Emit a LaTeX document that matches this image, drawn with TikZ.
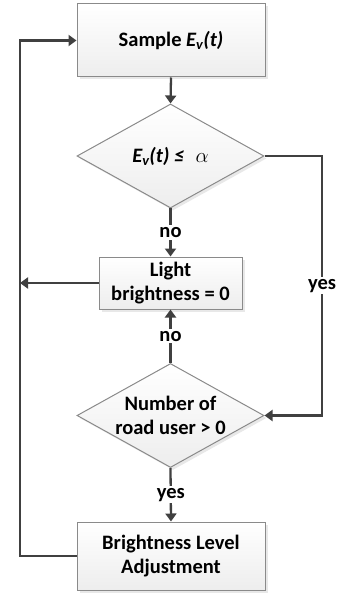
\documentclass[tikz,border=0pt]{standalone}
\usepackage{fontspec}
\setmainfont{Carlito}
\usetikzlibrary{shapes.geometric,arrows.meta,shadows}
\definecolor{conn}{HTML}{404040}
\definecolor{edge}{HTML}{8A8A8A}
\begin{document}
\begin{tikzpicture}[x=1pt,y=-1pt,
  font=\fontsize{20.5}{24}\selectfont\bfseries,
  boxstyle/.style={draw=edge, line width=1pt, top color=white, bottom color=gray!14,
    drop shadow={shadow xshift=2.5pt, shadow yshift=-2.5pt, opacity=0.18, fill=gray},
    align=center, inner sep=0pt},
  diastyle/.style={diamond, draw=edge, line width=1pt, top color=white, bottom color=gray!14,
    drop shadow={shadow xshift=2.5pt, shadow yshift=-2.5pt, opacity=0.18, fill=gray},
    minimum width=187pt, minimum height=104pt, inner sep=0pt},
  arrowline/.style={draw=conn, line width=2.3pt, -{Triangle[width=11pt,length=8pt]}},
  lbl/.style={fill=white, inner sep=2pt, align=center}]
\useasboundingbox (0,0) rectangle (337,593);

\node[boxstyle, minimum width=188pt, minimum height=73pt] (b1) at (171,40.5) {Sample \textit{E\textsubscript{v}(t)}};
\node[diastyle] (d1) at (170.5,156) {};
\node (d1t) at (d1.center) {\textit{E\textsubscript{v}(t) ≤} \,\,$\alpha$};
\node[boxstyle, minimum width=143pt, minimum height=52pt] (b2) at (170.5,283) {Light\\brightness = 0};
\node[diastyle] (d2) at (170.5,415.5) {};
\node[align=center] (d2t) at (d2.center) {Number of\\road user > 0};
\node[boxstyle, minimum width=188pt, minimum height=68pt] (b3) at (171,556) {Brightness Level\\Adjustment};

\coordinate (R) at (322,415.5);
\coordinate (L) at (20,556);

\draw[arrowline] (b1.south) -- (d1.north);
\draw[arrowline] (d1.south) -- (b2.north) node[lbl, midway] (n1) {no};
\draw[arrowline] (d2.north) -- (b2.south) node[lbl, midway] (n2) {no};
\draw[arrowline] (d2.south) -- (b3.north) node[lbl, midway] (y2) {yes};
\draw[arrowline] (d1.east) -| (R) node[lbl, pos=0.75] (y1) {yes} -- (d2.east);
\draw[arrowline] (b3.west) -- (L) |- (b1.west);
\draw[arrowline] (b2.west) -- (b2.west -| L);
\end{tikzpicture}
\end{document}
